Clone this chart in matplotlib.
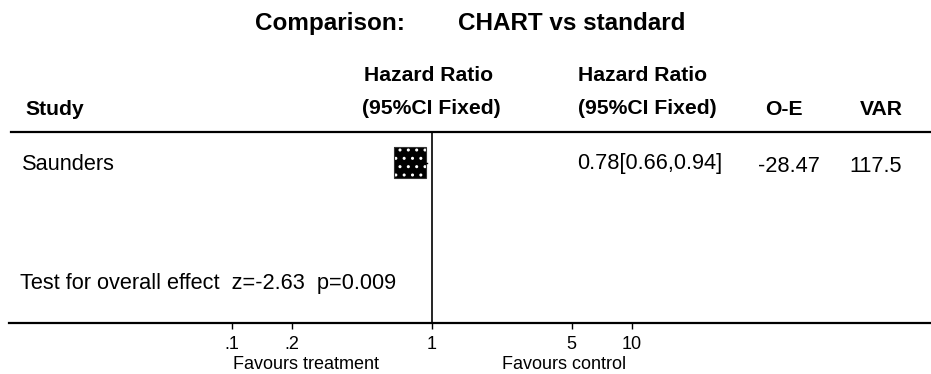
import numpy as np
import matplotlib
matplotlib.use('Agg')
import matplotlib.pyplot as plt
from matplotlib.patches import Rectangle

# ── Data ────────────────────────────────────────────────────────────────
title_left = "Comparison:"
title_right = "CHART vs standard"
studies = ["Saunders"]
hr = [0.78]
ci_lo = [0.66]
ci_hi = [0.94]
hr_text = ["0.78[0.66,0.94]"]
o_minus_e = ["-28.47"]
var = ["117.5"]
overall_text = "Test for overall effect  z=-2.63  p=0.009"
tick_vals = [0.1, 0.2, 1, 5, 10]
tick_labels = [".1", ".2", "1", "5", "10"]
favours_left = "Favours treatment"
favours_right = "Favours control"

W, H = 931, 374
plt.rcParams['font.family'] = ['Liberation Sans', 'DejaVu Sans']
plt.rcParams['hatch.linewidth'] = 1.0

fig = plt.figure(figsize=(W / 100, H / 100), dpi=100)

# table layer in pixel coords
tab = fig.add_axes([0, 0, 1, 1])
tab.set_xlim(0, W)
tab.set_ylim(H, 0)
tab.axis('off')

# forest layer: log x, 200 px per decade, HR=1 at x=432
fp = fig.add_axes([0, 0, 1, 1], sharey=tab)
fp.set_xscale('log')
fp.set_xlim(10 ** ((0 - 432) / 200), 10 ** ((W - 432) / 200))
fp.axis('off')
fp.patch.set_alpha(0)

# ── Header ──────────────────────────────────────────────────────────────
tfs = 17.5
tab.text(255, 30, title_left, fontsize=tfs, fontweight='bold', va='baseline')
tab.text(458, 30, title_right, fontsize=tfs, fontweight='bold', va='baseline')

hfs = 15.2
tab.text(429, 81, "Hazard Ratio", fontsize=hfs, fontweight='bold', ha='center', va='baseline')
tab.text(431, 114, "(95%CI Fixed)", fontsize=hfs, fontweight='bold', ha='center', va='baseline')
tab.text(578, 81, "Hazard Ratio", fontsize=hfs, fontweight='bold', va='baseline')
tab.text(578, 114, "(95%CI Fixed)", fontsize=hfs, fontweight='bold', va='baseline')
tab.text(25, 115, "Study", fontsize=hfs, fontweight='bold', va='baseline')
tab.text(784, 115, "O-E", fontsize=hfs, fontweight='bold', ha='center', va='baseline')
tab.text(881, 115, "VAR", fontsize=hfs, fontweight='bold', ha='center', va='baseline')

# rules
fp.axhline(132, xmin=11 / W, xmax=1, color='black', lw=1.6)
fp.axhline(323, xmin=9 / W, xmax=1, color='black', lw=1.6)
fp.vlines(1, 132, 323, color='black', lw=1.2)

# ── Rows ────────────────────────────────────────────────────────────────
bfs = 15.7
row_y = [162.5]
for i, name in enumerate(studies):
    y = row_y[i]
    tab.text(22, y + 7.5, name, fontsize=bfs, va='baseline')
    tab.text(577, y + 6.5, hr_text[i], fontsize=bfs, va='baseline')
    tab.text(789, y + 9, o_minus_e[i], fontsize=bfs, ha='center', va='baseline')
    tab.text(876, y + 9, var[i], fontsize=bfs, ha='center', va='baseline')

    fp.plot([ci_lo[i], ci_hi[i]], [y, y], color='black', lw=1)
    half = 10 ** 0.08
    box = Rectangle((hr[i] / half, y - 15.5), hr[i] * half - hr[i] / half, 31,
                    facecolor='black', edgecolor='white', hatch='..', lw=0)
    fp.add_patch(box)
    fp.add_patch(Rectangle((hr[i] / half, y - 15.5), hr[i] * half - hr[i] / half, 31,
                           fill=False, edgecolor='#333333', lw=0.8))

tab.text(20, 289, overall_text, fontsize=bfs, va='baseline')

# ── Axis ────────────────────────────────────────────────────────────────
sfs = 13
fp.vlines(tick_vals, 323, 329, color='black', lw=1)
for v, lab in zip(tick_vals, tick_labels):
    fp.text(v, 349, lab, fontsize=sfs, ha='center', va='baseline')
tab.text(233, 369, favours_left, fontsize=sfs, va='baseline')
tab.text(502, 369, favours_right, fontsize=sfs, va='baseline')

plt.savefig('out.png', dpi=100)
plt.close()
